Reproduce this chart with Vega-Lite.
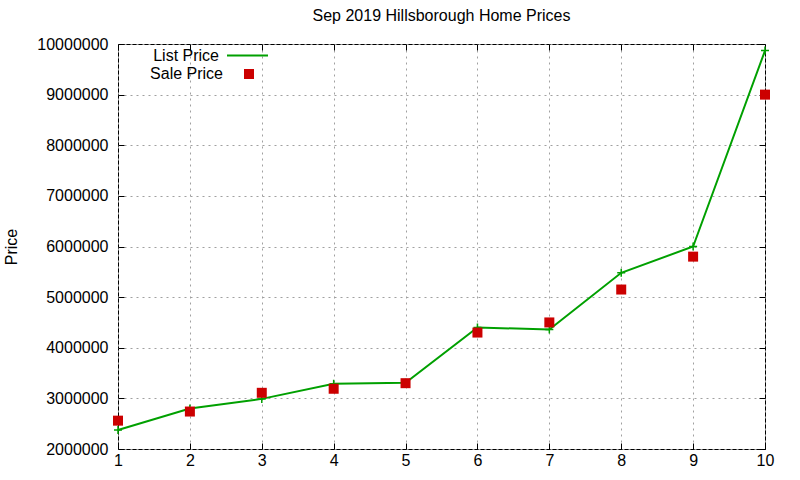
{
  "$schema": "https://vega.github.io/schema/vega-lite/v6.json",
  "autosize": "none",
  "width": 647,
  "height": 405,
  "padding": {"left": 118, "top": 44, "right": 35, "bottom": 31},
  "background": "white",
  "title": {
    "text": "Sep 2019 Hillsborough Home Prices",
    "font": "Liberation Sans",
    "fontSize": 16,
    "fontWeight": "normal",
    "color": "black",
    "offset": 10
  },
  "config": {
    "view": {"stroke": "black", "strokeWidth": 1},
    "axis": {
      "labelFont": "Liberation Sans",
      "labelFontSize": 16,
      "labelColor": "black",
      "labelFlush": false,
      "titleFont": "Liberation Sans",
      "titleFontSize": 16,
      "titleFontWeight": "normal",
      "titleColor": "black",
      "tickColor": "black",
      "tickSize": -6,
      "domain": false,
      "gridColor": "#a0a0a0",
      "gridDash": [2, 4],
      "gridWidth": 1,
      "gridOpacity": 1
    },
    "legend": {
      "labelFont": "Liberation Sans",
      "labelFontSize": 16,
      "labelColor": "black",
      "padding": 0
    }
  },
  "data": {
    "values": [
      {"n": 1, "list": 2375000, "sale": 2560000},
      {"n": 2, "list": 2800000, "sale": 2740000},
      {"n": 3, "list": 2990000, "sale": 3110000},
      {"n": 4, "list": 3290000, "sale": 3190000},
      {"n": 5, "list": 3310000, "sale": 3300000},
      {"n": 6, "list": 4400000, "sale": 4300000},
      {"n": 7, "list": 4360000, "sale": 4500000},
      {"n": 8, "list": 5480000, "sale": 5150000},
      {"n": 9, "list": 6000000, "sale": 5800000},
      {"n": 10, "list": 9870000, "sale": 9000000}
    ]
  },
  "layer": [
    {
      "mark": {"type": "line", "strokeWidth": 2},
      "encoding": {
        "x": {
          "field": "n",
          "type": "quantitative",
          "scale": {"domain": [1, 10], "nice": false, "zero": false},
          "axis": {
            "values": [1, 2, 3, 4, 5, 6, 7, 8, 9, 10],
            "format": "d",
            "title": null,
            "labelPadding": 9
          }
        },
        "y": {
          "field": "list",
          "type": "quantitative",
          "scale": {"domain": [2000000, 10000000], "nice": false, "zero": false},
          "axis": {
            "values": [2000000, 3000000, 4000000, 5000000, 6000000, 7000000, 8000000, 9000000, 10000000],
            "format": "d",
            "title": "Price",
            "labelPadding": 16,
            "titlePadding": 17
          }
        },
        "stroke": {
          "datum": "List Price",
          "scale": {"range": ["#00a000"]},
          "legend": {
            "title": null,
            "orient": "none",
            "legendX": 108,
            "legendY": -10,
            "symbolType": "stroke",
            "symbolSize": 1681,
            "symbolStrokeWidth": 2,
            "labelAlign": "right",
            "labelOffset": -50
          }
        }
      }
    },
    {
      "mark": {
        "type": "point",
        "shape": "M-1,0H1M0,-1V1",
        "filled": false,
        "stroke": "#00a000",
        "strokeWidth": 1.5,
        "size": 64,
        "opacity": 1
      },
      "encoding": {
        "x": {
          "field": "n",
          "type": "quantitative",
          "axis": {
            "orient": "top",
            "values": [1, 2, 3, 4, 5, 6, 7, 8, 9, 10],
            "labels": false,
            "grid": false,
            "title": null
          }
        },
        "y": {
          "field": "list",
          "type": "quantitative",
          "axis": {
            "orient": "right",
            "values": [2000000, 3000000, 4000000, 5000000, 6000000, 7000000, 8000000, 9000000, 10000000],
            "labels": false,
            "grid": false,
            "title": null
          }
        }
      }
    },
    {
      "mark": {"type": "square", "size": 100, "opacity": 1, "strokeWidth": 0},
      "encoding": {
        "x": {"field": "n", "type": "quantitative", "axis": null},
        "y": {"field": "sale", "type": "quantitative", "axis": null},
        "fill": {
          "datum": "Sale Price",
          "scale": {"range": ["#cc0000"]},
          "legend": {
            "title": null,
            "orient": "none",
            "legendX": 123,
            "legendY": 22,
            "symbolType": "square",
            "symbolSize": 100,
            "symbolStrokeWidth": 0,
            "symbolOpacity": 1,
            "labelAlign": "right",
            "labelOffset": -34
          }
        }
      }
    }
  ],
  "resolve": {"axis": {"x": "independent", "y": "independent"}}
}
